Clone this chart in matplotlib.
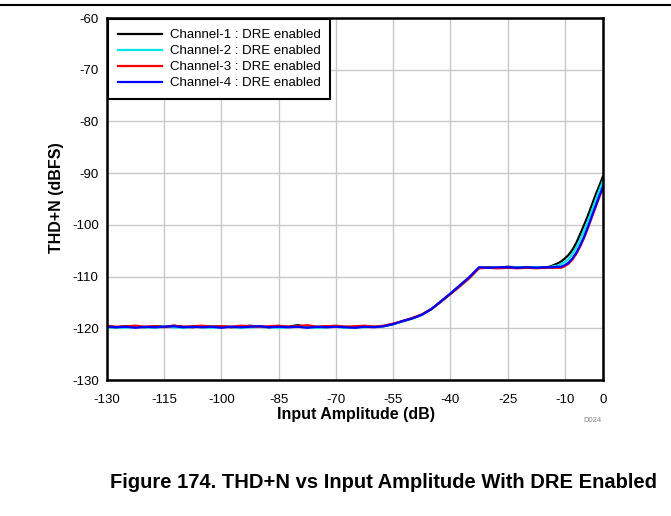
import numpy as np
import matplotlib
matplotlib.use('Agg')
import matplotlib.pyplot as plt

plt.rcParams['font.family'] = ['Liberation Sans', 'DejaVu Sans']
plt.rcParams['axes.unicode_minus'] = False

# input amplitude (dB): coarse steps, then 1 dB near full scale
amp = np.concatenate([np.arange(-130, -14, 2.5), np.arange(-14, 1, 1)])

ch1 = [-119.7, -119.8, -119.6, -119.7, -119.8, -119.6, -119.7, -119.5, -119.7, -119.8,
       -119.6, -119.7, -119.6, -119.8, -119.7, -119.5, -119.7, -119.8, -119.6, -119.7,
       -119.4, -119.7, -119.8, -119.6, -119.7, -119.7, -119.8, -119.6, -119.7,
       -119.6, -119.2, -118.6, -118.1, -117.4, -116.3, -114.8, -113.3, -111.7, -110.1,
       -108.3, -108.2, -108.3, -108.1, -108.2, -108.3, -108.2, -108.2,
       -108.1, -107.8, -107.5, -107.1, -106.5, -105.8, -104.8, -103.5, -101.8, -100.1,
       -98.3, -96.3, -94.3, -92.5, -90.6]
ch2 = [-119.9, -119.8, -119.9, -119.7, -119.8, -119.9, -119.7, -119.8, -119.9, -119.7,
       -119.8, -119.9, -119.8, -119.7, -119.9, -119.8, -119.7, -119.8, -119.9, -119.8,
       -119.7, -119.8, -119.9, -119.8, -119.7, -119.9, -119.8, -119.8, -119.7,
       -119.6, -119.2, -118.7, -118.1, -117.4, -116.3, -114.9, -113.3, -111.8, -110.2,
       -108.3, -108.3, -108.2, -108.3, -108.2, -108.3, -108.2, -108.3,
       -108.2, -108.0, -107.9, -107.6, -107.2, -106.6, -105.6, -104.4, -102.9, -101.2,
       -99.4, -97.4, -95.4, -93.4, -91.5]
ch3 = [-119.5, -119.7, -119.6, -119.5, -119.7, -119.6, -119.8, -119.5, -119.7, -119.6,
       -119.5, -119.7, -119.6, -119.7, -119.5, -119.6, -119.7, -119.6, -119.5, -119.7,
       -119.6, -119.4, -119.7, -119.6, -119.5, -119.7, -119.6, -119.5, -119.7,
       -119.5, -119.1, -118.6, -118.0, -117.3, -116.3, -114.9, -113.4, -111.9, -110.3,
       -108.4, -108.3, -108.4, -108.3, -108.4, -108.3, -108.4, -108.3,
       -108.3, -108.3, -108.3, -108.3, -108.0, -107.5, -106.7, -105.6, -104.2, -102.6,
       -100.7, -98.7, -96.7, -94.7, -92.8]
ch4 = [-119.7, -119.8, -119.7, -119.9, -119.7, -119.8, -119.7, -119.6, -119.8, -119.7,
       -119.8, -119.7, -119.9, -119.7, -119.8, -119.7, -119.6, -119.8, -119.7, -119.8,
       -119.7, -119.9, -119.7, -119.8, -119.7, -119.8, -119.9, -119.7, -119.8,
       -119.6, -119.2, -118.6, -118.1, -117.4, -116.3, -114.8, -113.3, -111.7, -110.1,
       -108.2, -108.3, -108.2, -108.2, -108.3, -108.2, -108.3, -108.2,
       -108.2, -108.2, -108.1, -108.1, -107.8, -107.3, -106.5, -105.4, -104.0, -102.4,
       -100.5, -98.5, -96.5, -94.5, -92.6]

names = ['Channel-1 : DRE enabled', 'Channel-2 : DRE enabled',
         'Channel-3 : DRE enabled', 'Channel-4 : DRE enabled']
colors = ['black', '#00e5e5', 'red', 'blue']
xticks = [-130, -115, -100, -85, -70, -55, -40, -25, -10, 0]
yticks = [-130, -120, -110, -100, -90, -80, -70, -60]

fig = plt.figure(figsize=(6.71, 5.16), dpi=100)
ax = fig.add_axes([107 / 671, 1 - 380 / 516, 496 / 671, 362 / 516])

for y, c, n in zip([ch1, ch2, ch3, ch4], colors, names):
    ax.plot(amp, y, color=c, lw=1.6, label=n)

ax.set_xlim(-130, 0)
ax.set_ylim(-130, -60)
ax.set_xticks(xticks)
ax.set_yticks(yticks)
ax.grid(True, color='#c8c8c8', lw=1)
ax.tick_params(length=0, labelsize=9.5)
ax.tick_params(axis='x', pad=10)
ax.tick_params(axis='y', pad=6)
for s in ax.spines.values():
    s.set_linewidth(1.8)

leg = ax.legend(loc='upper left', fontsize=9.5, borderaxespad=0.1, borderpad=0.75,
                handlelength=3.3, handletextpad=0.6, labelspacing=0.28,
                fancybox=False, framealpha=1, edgecolor='black')
leg.get_frame().set_linewidth(1.5)

fig.text(356 / 671, 1 - 415 / 516, 'Input Amplitude (dB)', ha='center', va='center',
         fontsize=11.5, fontweight='bold')
fig.text(57 / 671, 1 - 198 / 516, 'THD+N (dBFS)', ha='center', va='center',
         rotation=90, fontsize=11.5, fontweight='bold')
fig.text(592 / 671, 1 - 420 / 516, 'D024', ha='center', va='center', fontsize=5.5,
         color='#888888')
fig.text(383 / 671, 1 - 483 / 516, 'Figure 174. THD+N vs Input Amplitude With DRE Enabled',
         ha='center', va='center', fontsize=14.5, fontweight='bold')
fig.add_artist(plt.Line2D([0, 1], [1 - 5 / 516, 1 - 5 / 516], color='black', lw=1.5))

fig.savefig('out.png', dpi=100)
